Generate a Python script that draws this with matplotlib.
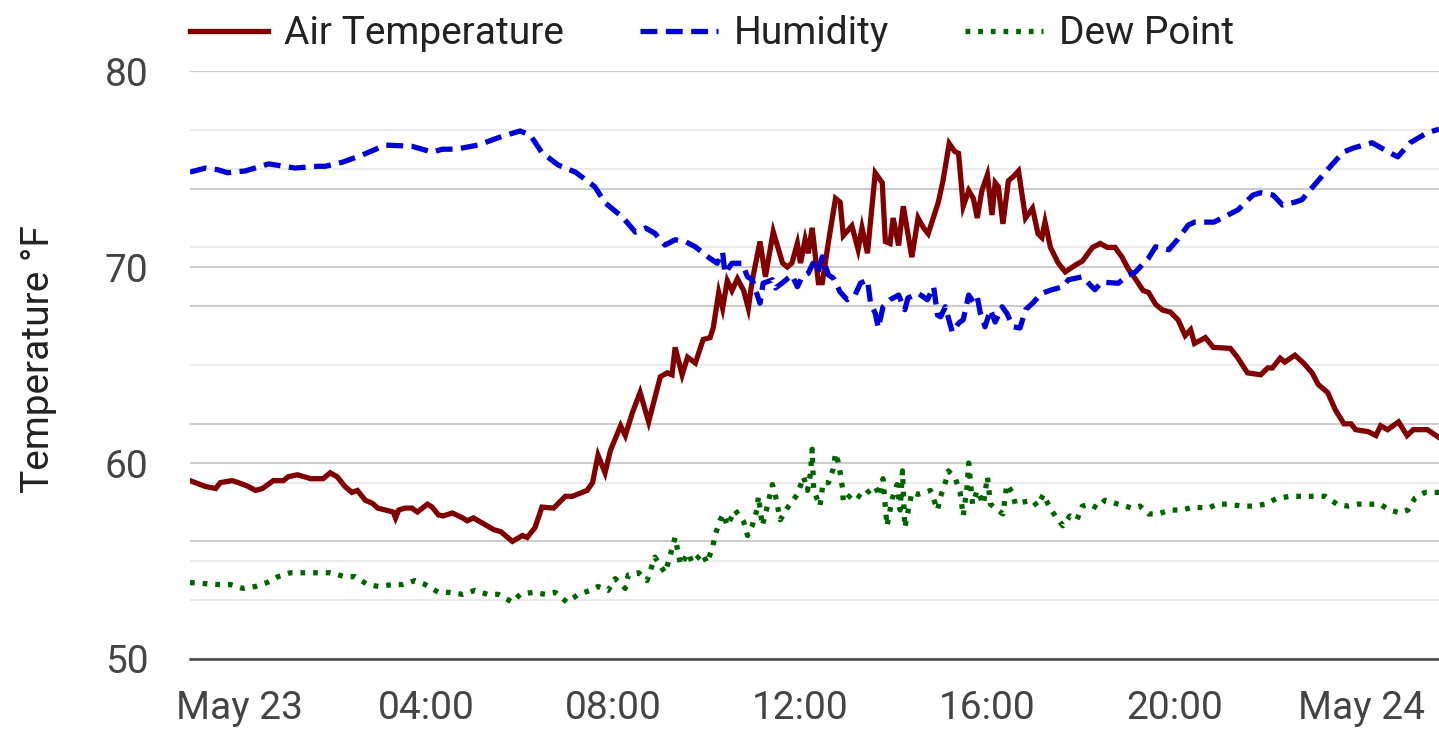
import pandas as pd
import matplotlib.pyplot as plt
import matplotlib.dates as mdates
from matplotlib.ticker import MultipleLocator, FuncFormatter

plt.rcParams['font.family'] = ['Roboto', 'DejaVu Sans']

# minutes after midnight, May 23
day0 = pd.Timestamp('2024-05-23')
t_start, t_end = -64, 1540

temp_min = [-64, -44, -31, -25, -10, -2, 11, 20, 29, 43, 56, 62, 74, 91, 107, 116, 125, 135, 144,
            151, 161, 170, 177, 187, 197, 200, 204, 212, 221, 228, 241, 247, 255, 261, 273, 286,
            292, 300, 313, 326, 335, 350, 363, 369, 379, 388, 403, 418, 427, 446, 453, 460, 469,
            476, 489, 495, 504, 514, 525, 540, 549, 555, 559, 568, 575, 585, 595, 604, 608, 615,
            620, 626, 632, 639, 647, 653, 658, 668, 675, 685, 697, 703, 709, 716, 720, 726, 730,
            735, 743, 748, 756, 765, 771, 775, 786, 794, 799, 806, 816, 825, 829, 835, 839, 846,
            852, 863, 871, 878, 884, 897, 903, 911, 918, 923, 929, 936, 942, 947, 953, 960, 966,
            970, 974, 980, 987, 993, 1000, 1009, 1018, 1025, 1030, 1034, 1041, 1051, 1060, 1073,
            1082, 1095, 1105, 1114, 1124, 1133, 1141, 1150, 1160, 1167, 1176, 1185, 1195, 1205,
            1214, 1221, 1226, 1240, 1250, 1272, 1281, 1294, 1311, 1320, 1326, 1336, 1342, 1355,
            1366, 1377, 1385, 1397, 1407, 1418, 1427, 1433, 1449, 1459, 1465, 1474, 1488, 1499,
            1507, 1525, 1540]
temp_f = [59.1, 58.8, 58.7, 59.0, 59.1, 59.0, 58.8, 58.6, 58.7, 59.1, 59.1, 59.3, 59.4, 59.2, 59.2,
          59.5, 59.3, 58.8, 58.5, 58.6, 58.1, 57.95, 57.7, 57.6, 57.5, 57.2, 57.6, 57.7, 57.7, 57.5,
          57.9, 57.75, 57.35, 57.3, 57.45, 57.2, 57.05, 57.2, 56.9, 56.6, 56.5, 56.0, 56.3, 56.2,
          56.7, 57.75, 57.7, 58.3, 58.3, 58.6, 59.0, 60.4, 59.5, 60.65, 61.9, 61.4, 62.55, 63.6,
          62.1, 64.4, 64.6, 64.5, 65.9, 64.5, 65.4, 65.1, 66.3, 66.4, 66.9, 68.7, 67.9, 69.3, 68.8,
          69.4, 68.8, 67.9, 69.3, 71.3, 69.5, 71.8, 70.2, 70.0, 70.2, 71.2, 70.2, 71.4, 70.7, 72.0,
          69.2, 69.2, 71.3, 73.5, 73.3, 71.6, 72.1, 70.9, 72.0, 70.7, 74.8, 74.3, 71.3, 71.2, 72.5,
          71.1, 73.1, 70.5, 72.5, 72.0, 71.7, 73.3, 74.4, 76.3, 75.9, 75.8, 73.1, 73.9, 73.5, 72.5,
          73.9, 74.7, 72.65, 74.3, 74.1, 72.2, 74.4, 74.6, 74.9, 72.5, 73.0, 71.7, 71.5, 72.3, 71.0,
          70.2, 69.75, 70.1, 70.3, 71.0, 71.2, 71.0, 71.0, 70.5, 69.9, 69.4, 68.8, 68.7, 68.1, 67.8,
          67.7, 67.3, 66.5, 66.8, 66.1, 66.4, 65.9, 65.85, 65.4, 64.6, 64.5, 64.85, 64.85, 65.35,
          65.15, 65.5, 65.1, 64.6, 64.0, 63.6, 62.7, 62.0, 62.0, 61.7, 61.6, 61.4, 61.9, 61.7, 62.1,
          61.4, 61.7, 61.7, 61.3]

hum_min = [-64, -44, -28, -16, 7, 37, 71, 101, 110, 132, 157, 187, 221, 247, 260, 277, 306, 337,
           360, 373, 388, 409, 431, 456, 469, 491, 508, 521, 533, 546, 559, 572, 585, 601, 613,
           620, 623, 632, 645, 652, 658, 668, 672, 684, 688, 698, 709, 716, 722, 730, 736, 742,
           748, 756, 762, 771, 780, 790, 797, 806, 810, 816, 820, 826, 835, 846, 854, 858, 871,
           883, 891, 896, 900, 906, 915, 923, 929, 936, 942, 947, 951, 957, 964, 970, 979, 985,
           993, 1002, 1009, 1018, 1030, 1043, 1057, 1064, 1082, 1098, 1107, 1128, 1141, 1150,
           1167, 1176, 1193, 1204, 1218, 1226, 1251, 1282, 1301, 1311, 1327, 1339, 1355, 1364,
           1378, 1400, 1417, 1430, 1454, 1477, 1487, 1503, 1525, 1540]
hum_pct = [82.8, 83.5, 83.2, 82.7, 83.0, 84.2, 83.5, 83.8, 83.8, 84.5, 85.7, 87.4, 87.2, 86.2, 86.7,
           86.7, 87.4, 88.9, 89.8, 89.1, 86.1, 84.0, 82.8, 80.3, 77.6, 75.2, 72.6, 73.3, 72.4, 70.4,
           71.3, 71.0, 70.1, 68.4, 67.3, 69.2, 65.6, 67.3, 67.3, 65.0, 64.5, 60.5, 63.9, 64.5, 63.1,
           64.1, 65.3, 63.3, 65.0, 65.6, 67.3, 65.6, 68.4, 65.3, 64.8, 62.4, 61.1, 61.9, 63.9, 64.5,
           60.5, 58.8, 56.3, 59.9, 61.1, 61.9, 59.4, 61.4, 62.2, 61.1, 63.3, 58.5, 58.2, 59.9, 55.6,
           57.1, 57.7, 61.9, 60.7, 61.6, 58.8, 56.5, 59.4, 57.3, 59.9, 58.8, 56.5, 56.3, 59.4, 60.5,
           62.2, 62.8, 63.3, 64.5, 65.0, 62.8, 64.1, 63.9, 65.3, 65.8, 68.2, 70.1, 69.6, 71.3, 73.8,
           74.3, 74.3, 76.4, 78.9, 79.3, 78.9, 77.2, 77.7, 78.1, 80.3, 83.7, 86.2, 86.9, 87.8, 86.1,
           85.4, 87.8, 89.5, 90.1]

dew_min = [-64, -28, -12, 4, 20, 35, 49, 65, 82, 116, 135, 148, 164, 178, 196, 210, 225, 238, 255,
           268, 286, 302, 318, 332, 350, 360, 377, 392, 405, 420, 435, 450, 460, 473, 482, 495, 499,
           512, 523, 533, 546, 550, 559, 566, 576, 581, 594, 600, 607, 611, 617, 621, 626, 636, 647,
           652, 658, 664, 666, 671, 675, 684, 688, 694, 703, 716, 724, 729, 733, 735, 737, 742, 745,
           749, 756, 762, 765, 768, 771, 774, 775, 788, 799, 806, 816, 822, 826, 831, 838, 844, 848,
           851, 854, 863, 871, 887, 896, 900, 906, 910, 919, 925, 929, 934, 936, 941, 947, 955, 960,
           964, 970, 980, 985, 992, 996, 1005, 1018, 1024, 1032, 1038, 1047, 1057, 1066, 1075, 1082,
           1092, 1101, 1111, 1128, 1146, 1156, 1167, 1179, 1195, 1210, 1224, 1244, 1255, 1269, 1287,
           1300, 1317, 1332, 1349, 1362, 1377, 1394, 1409, 1423, 1436, 1451, 1464, 1477, 1490, 1500,
           1509, 1522, 1540]
dew_f = [53.9, 53.8, 53.8, 53.6, 53.7, 53.9, 54.2, 54.4, 54.4, 54.4, 54.2, 54.2, 53.8, 53.7, 53.8,
         53.8, 54.0, 53.8, 53.4, 53.4, 53.3, 53.5, 53.3, 53.3, 52.9, 53.3, 53.4, 53.3, 53.4, 52.9,
         53.3, 53.5, 53.7, 53.5, 54.1, 53.6, 54.3, 54.4, 54.0, 55.2, 54.4, 54.9, 56.2, 54.8, 55.4,
         54.9, 55.4, 54.9, 55.7, 56.4, 57.1, 57.4, 56.8, 57.6, 57.0, 56.3, 56.8, 57.6, 58.3, 56.8,
         57.4, 58.9, 58.3, 57.1, 57.7, 58.4, 59.3, 58.6, 59.5, 60.7, 58.6, 58.1, 57.8, 59.0, 59.0,
         59.7, 60.5, 60.1, 59.5, 58.7, 58.0, 58.5, 58.2, 58.5, 58.8, 58.3, 59.2, 56.8, 58.2, 58.9,
         57.6, 59.6, 56.7, 58.5, 58.4, 58.6, 57.6, 58.3, 59.0, 59.6, 59.2, 58.5, 57.3, 58.8, 60.0,
         57.9, 58.6, 57.9, 59.3, 57.9, 57.7, 57.4, 58.9, 58.5, 57.9, 58.0, 58.1, 57.8, 58.4, 57.9,
         57.3, 56.8, 57.3, 57.1, 57.8, 57.9, 57.7, 58.1, 57.9, 57.7, 57.8, 57.4, 57.4, 57.6, 57.6,
         57.75, 57.7, 57.9, 57.9, 57.8, 57.8, 57.9, 58.2, 58.3, 58.3, 58.3, 58.3, 57.9, 57.8, 57.9,
         57.9, 57.9, 57.6, 57.45, 57.6, 58.2, 58.5, 58.5]


def to_time(mins):
    return day0 + pd.to_timedelta(mins, unit='m')


def time_label(x, pos):
    t = mdates.num2date(x)
    if t.hour == 0 and t.minute == 0:
        return t.strftime('%b %d')
    return t.strftime('%H:%M')


fig = plt.figure(figsize=(14.39, 7.44), dpi=100)
ax = fig.add_axes([190 / 1439, 85 / 744, 1249 / 1439, 588 / 744])

# humidity scale (hidden) - its grid sits under everything
ax_hg = ax.twinx()
ax_hg.set_ylim(0, 100)
ax_hg.yaxis.set_major_locator(MultipleLocator(20))
ax_hg.yaxis.set_minor_locator(MultipleLocator(10))
ax_hg.grid(True, which='major', axis='y', color='#cccccc', lw=1.5)
ax_hg.grid(True, which='minor', axis='y', color='#ebebeb', lw=1.5)
ax_hg.tick_params(which='both', right=False, labelright=False)
for s in ax_hg.spines.values():
    s.set_visible(False)
ax_hg.set_zorder(0)

ax.set_zorder(1)
ax.patch.set_visible(False)

ax_h = ax.twinx()
ax_h.set_ylim(0, 100)
ax_h.set_zorder(2)
ax_h.patch.set_visible(False)
ax_h.tick_params(which='both', right=False, labelright=False)
for s in ax_h.spines.values():
    s.set_visible(False)

l_temp, = ax.plot(to_time(temp_min), temp_f, color='#800000', lw=3.8,
                  solid_joinstyle='miter', label='Air Temperature')
l_dew, = ax.plot(to_time(dew_min), dew_f, color='#006400', lw=3.8,
                 linestyle=(0, (0.9, 1.5)), dash_capstyle='butt', label='Dew Point')
l_hum, = ax_h.plot(to_time(hum_min), hum_pct, color='#0000d8', lw=3.8,
                   linestyle=(0, (3.2, 1.6)), dash_capstyle='butt', label='Humidity')

ax.set_xlim(to_time(t_start), to_time(t_end))
ax.set_ylim(50, 80)
ax.set_yticks([50, 60, 70, 80])
ax.yaxis.set_minor_locator(MultipleLocator(5))
ax.grid(True, which='major', axis='y', color='#cccccc', lw=1.5)
ax.grid(True, which='minor', axis='y', color='#ebebeb', lw=1.5)

ax.xaxis.set_major_locator(mdates.HourLocator(byhour=range(0, 24, 4)))
ax.xaxis.set_minor_locator(mdates.HourLocator(byhour=range(0, 24, 2)))
ax.xaxis.set_major_formatter(FuncFormatter(time_label))
ax_hg.grid(True, which='both', axis='x', color='#f0f0f0', lw=1.5)

ax.tick_params(axis='both', which='both', length=0, labelsize=28, labelcolor='#444444')
ax.tick_params(axis='y', pad=30)
ax.tick_params(axis='x', pad=22)
for side in ['top', 'right', 'left']:
    ax.spines[side].set_visible(False)
ax.spines['bottom'].set_color('#444444')
ax.spines['bottom'].set_linewidth(1.8)

fig.text(39 / 1439, 1 - 359 / 744, 'Temperature °F', rotation=90, ha='center', va='center',
         fontsize=28, color='#222222')

fig.legend([l_temp, l_hum, l_dew], ['Air Temperature', 'Humidity', 'Dew Point'],
           loc='center left', bbox_to_anchor=(190 / 1439, 1 - 34 / 744), ncol=3,
           frameon=False, fontsize=28, labelcolor='#222222', handlelength=2.0,
           handletextpad=0.42, columnspacing=1.95, borderpad=0, borderaxespad=0)

fig.savefig('out.png', dpi=100)
